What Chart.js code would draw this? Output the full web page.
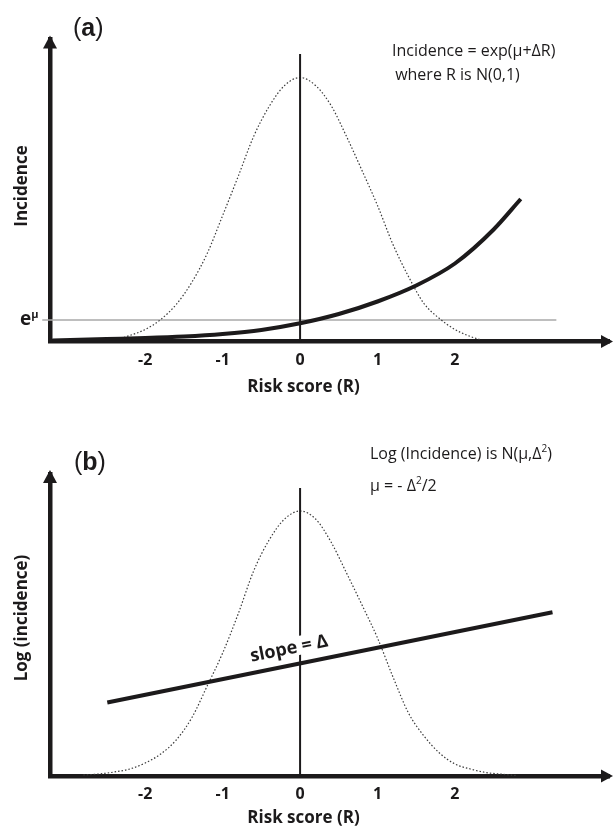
<!DOCTYPE html>
<html>
<head>
<meta charset="utf-8">
<script src="https://cdn.jsdelivr.net/npm/chart.js@4/dist/chart.umd.min.js"></script>
<style>
  html, body { margin: 0; padding: 0; background: #fff; }
  canvas { display: block; }
</style>
</head>
<body>
<canvas id="chartA" width="614" height="400"></canvas>
<canvas id="chartB" width="614" height="430"></canvas>
<script>
// ticks on the risk score axis
const riskTicks = [-2, -1, 0, 1, 2];

// (a) N(0,1) density of R (dotted), arbitrary height
const bellRiskA = [-2.32, -2.2, -2.0, -1.8, -1.6, -1.4, -1.2, -1.0, -0.8, -0.6, -0.4, -0.2, 0,
  0.2, 0.4, 0.6, 0.8, 1.0, 1.2, 1.4, 1.6, 1.8, 2.0, 2.2, 2.32];
const bellA = [0.03, 0.06, 0.12, 0.22, 0.37, 0.59, 0.88, 1.26, 1.65, 2.05, 2.35, 2.56, 2.64,
  2.56, 2.36, 2.05, 1.71, 1.36, 0.97, 0.65, 0.38, 0.23, 0.12, 0.05, 0.02];

// (a) incidence = exp(mu + delta R)
const incRisk = [-3.2, -2.5, -2.0, -1.5, -1.0, -0.5, 0, 0.5, 1.0, 1.5, 2.0, 2.5, 2.85];
const incidence = [0.01, 0.025, 0.035, 0.05, 0.075, 0.115, 0.182, 0.275, 0.40, 0.56, 0.78, 1.12, 1.425];
const expMu = 0.215;
const expMuRange = [-3.33, 3.31];
const zeroLineTopA = 2.875;

// (b) density again (dotted)
const bellRiskB = [-2.8, -2.6, -2.4, -2.2, -2.0, -1.8, -1.6, -1.4, -1.2, -1.0, -0.8, -0.6, -0.4, -0.2, 0,
  0.2, 0.4, 0.6, 0.8, 1.0, 1.2, 1.4, 1.6, 1.8, 2.0, 2.2, 2.4, 2.6, 2.8];
const bellB = [0.01, 0.02, 0.04, 0.07, 0.13, 0.22, 0.36, 0.58, 0.90, 1.23, 1.62, 2.05, 2.36, 2.57, 2.65,
  2.57, 2.34, 2.03, 1.71, 1.38, 0.99, 0.63, 0.40, 0.23, 0.12, 0.07, 0.035, 0.018, 0.005];

// (b) log incidence, straight line
const logRisk = [-2.49, 3.26];
const logIncidence = [0.735, 1.637];
const zeroLineTopB = 2.88;

const INK = "#1c1a1b";
const FONT = "'Open Sans', sans-serif";
const LETTER = "'Liberation Sans', sans-serif";

const pts = (xs, ys) => xs.map((x, i) => ({ x, y: ys[i] }));

// arrow heads on the two axes
const axisArrows = {
  id: "axisArrows",
  afterDraw(chart) {
    const { ctx } = chart;
    const { left, right, top, bottom } = chart.chartArea;
    ctx.save();
    ctx.fillStyle = INK;
    ctx.beginPath();
    ctx.moveTo(left, top - 4);
    ctx.lineTo(left - 7, top + 9);
    ctx.lineTo(left + 7, top + 9);
    ctx.closePath();
    ctx.fill();
    ctx.beginPath();
    ctx.moveTo(right + 4, bottom);
    ctx.lineTo(right - 8, bottom - 6.5);
    ctx.lineTo(right - 8, bottom + 6.5);
    ctx.closePath();
    ctx.fill();
    ctx.restore();
  },
};

// free text: axis titles, panel letter, formulas, e^mu and slope label
const notes = {
  id: "notes",
  afterDraw(chart, args, opts) {
    const { ctx } = chart;
    ctx.save();
    ctx.fillStyle = INK;
    ctx.textBaseline = "alphabetic";
    (opts.items || []).forEach((it) => {
      ctx.save();
      ctx.translate(it.x, it.y);
      if (it.rot) ctx.rotate(it.rot);
      if (it.parts) {
        let x = 0;
        it.parts.forEach((p) => {
          ctx.font = p.font;
          ctx.fillText(p.text, x, p.dy || 0);
          x += ctx.measureText(p.text).width;
        });
      } else {
        ctx.font = it.font;
        ctx.textAlign = it.align || "left";
        ctx.fillText(it.text, 0, 0);
      }
      ctx.restore();
    });
    if (opts.slope) {
      const s = opts.slope;
      const xs = chart.scales.x, ys = chart.scales.y;
      const x0 = xs.getPixelForValue(logRisk[0]), y0 = ys.getPixelForValue(logIncidence[0]);
      const x1 = xs.getPixelForValue(logRisk[1]), y1 = ys.getPixelForValue(logIncidence[1]);
      const ang = Math.atan2(y1 - y0, x1 - x0);
      ctx.translate(s.x, s.y);
      ctx.rotate(ang);
      ctx.font = s.font;
      const w = ctx.measureText(s.text).width;
      ctx.fillStyle = "#fff";
      ctx.fillRect(-w / 2 - 3, -10, w + 6, 19);
      ctx.fillStyle = INK;
      ctx.textAlign = "center";
      ctx.textBaseline = "middle";
      ctx.fillText(s.text, 0, 1);
    }
    ctx.restore();
  },
};

function makeChart(id, cfg) {
  const H = cfg.height;
  return new Chart(document.getElementById(id), {
    type: "scatter",
    data: { datasets: cfg.datasets },
    options: {
      responsive: false,
      animation: false,
      events: [],
      layout: { padding: { top: cfg.top, right: 5, left: 0, bottom: 0 } },
      elements: { point: { radius: 0 } },
      plugins: {
        legend: { display: false },
        tooltip: { enabled: false },
        notes: cfg.notes,
      },
      scales: {
        x: {
          type: "linear",
          min: -3.23,
          max: 3.99,
          afterFit: (s) => { s.height = H - cfg.bottom; },
          afterBuildTicks: (s) => { s.ticks = riskTicks.map((v) => ({ value: v })); },
          grid: { display: false, drawTicks: false },
          border: { display: true, width: 4.5, color: INK },
          ticks: {
            autoSkip: false,
            maxRotation: 0,
            padding: 9,
            color: INK,
            font: { family: FONT, size: 16, weight: "bold" },
          },
        },
        y: {
          type: "linear",
          min: 0,
          max: 3.02,
          afterFit: (s) => { s.width = 50; },
          grid: { display: false, drawTicks: false },
          border: { display: true, width: 4.5, color: INK },
          ticks: { display: false },
        },
      },
    },
    plugins: [axisArrows, notes],
  });
}

const dotted = { borderColor: "#3a3a3a", borderWidth: 1.2, borderDash: [1.5, 2], cubicInterpolationMode: "monotone", showLine: true, pointRadius: 0 };
const titleFont = "bold 17px " + FONT;

makeChart("chartA", {
  height: 400,
  top: 39.5,
  bottom: 341.5,
  datasets: [
    { data: pts(incRisk, incidence), borderColor: INK, borderWidth: 4, showLine: true, cubicInterpolationMode: "monotone", pointRadius: 0 },
    { data: pts([0, 0], [0, zeroLineTopA]), borderColor: INK, borderWidth: 2, showLine: true, pointRadius: 0 },
    { data: pts(bellRiskA, bellA), ...dotted },
    { data: pts(expMuRange, [expMu, expMu]), borderColor: "#a8a8a8", borderWidth: 1.6, showLine: true, pointRadius: 0, clip: false },
  ],
  notes: {
    items: [
      { text: "Risk score (R)", x: 303.5, y: 392, align: "center", font: titleFont },
      { text: "Incidence", x: 27, y: 186, rot: -Math.PI / 2, align: "center", font: titleFont },
      { parts: [
        { text: "(", font: "25px " + LETTER },
        { text: "a", font: "bold 25px " + LETTER },
        { text: ")", font: "25px " + LETTER },
      ], x: 73, y: 36 },
      { text: "Incidence = exp(\u03bc+\u0394R)", x: 392, y: 56, font: "16px " + FONT },
      { text: " where R is N(0,1)", x: 391, y: 80, font: "16px " + FONT },
      { parts: [
        { text: "e", font: "bold 19px " + FONT },
        { text: "\u03bc", font: "bold 11px " + FONT, dy: -7 },
      ], x: 20, y: 325 },
    ],
  },
});

makeChart("chartB", {
  height: 430,
  top: 74,
  bottom: 376,
  datasets: [
    { data: pts(logRisk, logIncidence), borderColor: INK, borderWidth: 4, showLine: true, pointRadius: 0 },
    { data: pts([0, 0], [0, zeroLineTopB]), borderColor: INK, borderWidth: 2, showLine: true, pointRadius: 0 },
    { data: pts(bellRiskB, bellB), ...dotted },
  ],
  notes: {
    items: [
      { text: "Risk score (R)", x: 303.5, y: 423, align: "center", font: titleFont },
      { text: "Log (incidence)", x: 27, y: 218, rot: -Math.PI / 2, align: "center", font: titleFont },
      { parts: [
        { text: "(", font: "25px " + LETTER },
        { text: "b", font: "bold 25px " + LETTER },
        { text: ")", font: "25px " + LETTER },
      ], x: 74, y: 70 },
      { parts: [
        { text: "Log (Incidence) is N(\u03bc,\u0394", font: "16px " + FONT },
        { text: "2", font: "10px " + FONT, dy: -7 },
        { text: ")", font: "16px " + FONT },
      ], x: 370, y: 59 },
      { parts: [
        { text: "\u03bc = - \u0394", font: "16px " + FONT },
        { text: "2", font: "10px " + FONT, dy: -7 },
        { text: "/2", font: "16px " + FONT },
      ], x: 370, y: 91 },
    ],
    slope: { text: "slope = \u0394", x: 289, y: 248, font: "bold 18px " + FONT },
  },
});
</script>
</body>
</html>
